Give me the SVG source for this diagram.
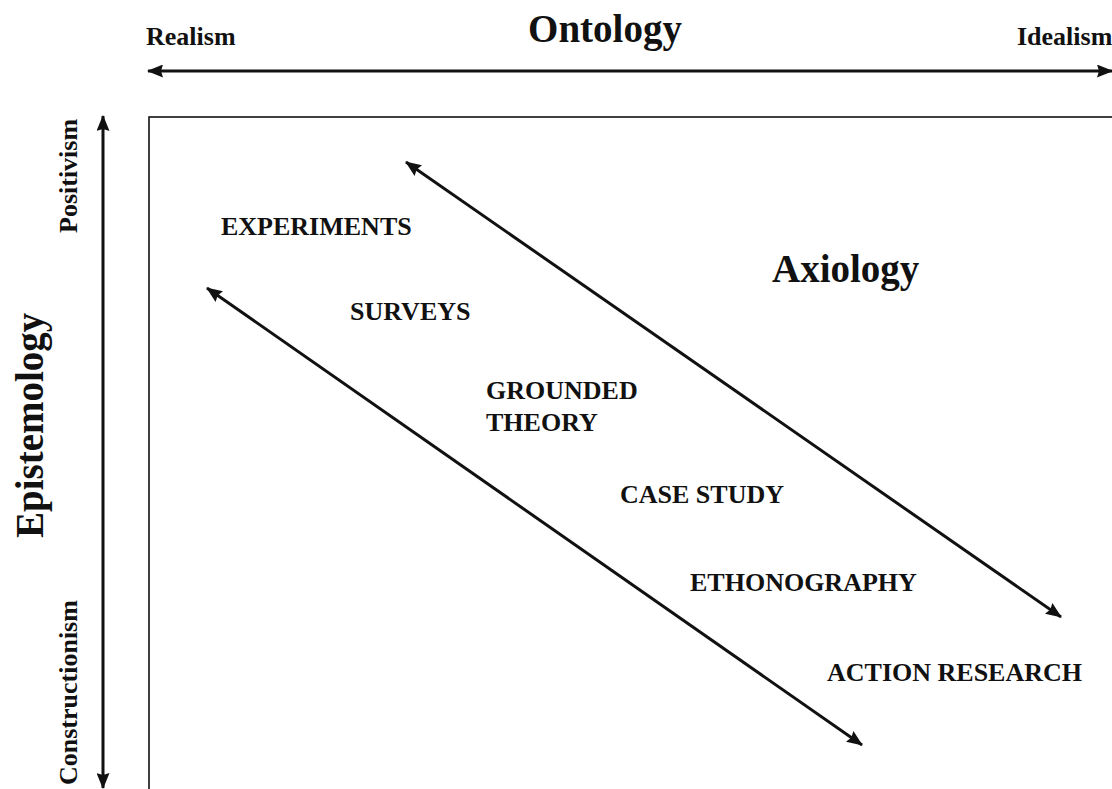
<svg xmlns="http://www.w3.org/2000/svg" width="1112" height="789" viewBox="0 0 1112 789">
  <style>
    text { font-family: "Liberation Serif", "Times New Roman", serif; font-weight: bold; fill: #111; }
    .small { font-size: 26px; }
    .big { font-size: 39px; }
    .axis { stroke: #111; stroke-width: 3; fill: none; }
    .diag { stroke: #111; stroke-width: 3; fill: none; }
  </style>
  <defs>
    <marker id="head" viewBox="0 0 16 13" refX="15" refY="6.5" markerWidth="16" markerHeight="13" markerUnits="userSpaceOnUse" orient="auto-start-reverse">
      <path d="M0,0 L16,6.5 L0,13 L2,6.5 Z" fill="#111"/>
    </marker>
  </defs>

  <rect x="0" y="0" width="1112" height="789" fill="#fff"/>

  <!-- frame of the matrix, open to the right and bottom -->
  <rect id="frame" x="149" y="117" width="1000" height="700" fill="none" stroke="#111" stroke-width="1.6"/>

  <g id="connectors">
    <line class="axis" x1="148" y1="71" x2="1112" y2="71" marker-start="url(#head)" marker-end="url(#head)"/>
    <line class="axis" x1="103" y1="116" x2="103" y2="788" marker-start="url(#head)" marker-end="url(#head)"/>
    <line class="diag" x1="406" y1="162" x2="1061" y2="617" marker-start="url(#head)" marker-end="url(#head)"/>
    <line class="diag" x1="207" y1="288" x2="862" y2="745" marker-start="url(#head)" marker-end="url(#head)"/>
  </g>

  <g id="ontology">
    <text class="big" x="605" y="42" text-anchor="middle">Ontology</text>
    <text class="small" x="146" y="45">Realism</text>
    <text class="small" x="1017" y="45">Idealism</text>
  </g>

  <g id="epistemology">
    <text class="big" transform="translate(43,538) rotate(-90)">Epistemology</text>
    <text class="small" transform="translate(77,233) rotate(-90)">Positivism</text>
    <text class="small" transform="translate(77,785) rotate(-90)">Constructionism</text>
  </g>

  <g id="axiology">
    <text class="big" x="772" y="282">Axiology</text>
  </g>

  <g id="experiments"><text class="small" x="221" y="235">EXPERIMENTS</text></g>
  <g id="surveys"><text class="small" x="350" y="320">SURVEYS</text></g>
  <g id="grounded-theory">
    <text class="small" x="486" y="399">GROUNDED</text>
    <text class="small" x="486" y="431">THEORY</text>
  </g>
  <g id="case-study"><text class="small" x="620" y="503">CASE STUDY</text></g>
  <g id="ethnography"><text class="small" x="690" y="591">ETHONOGRAPHY</text></g>
  <g id="action-research"><text class="small" x="827" y="681">ACTION RESEARCH</text></g>
</svg>
